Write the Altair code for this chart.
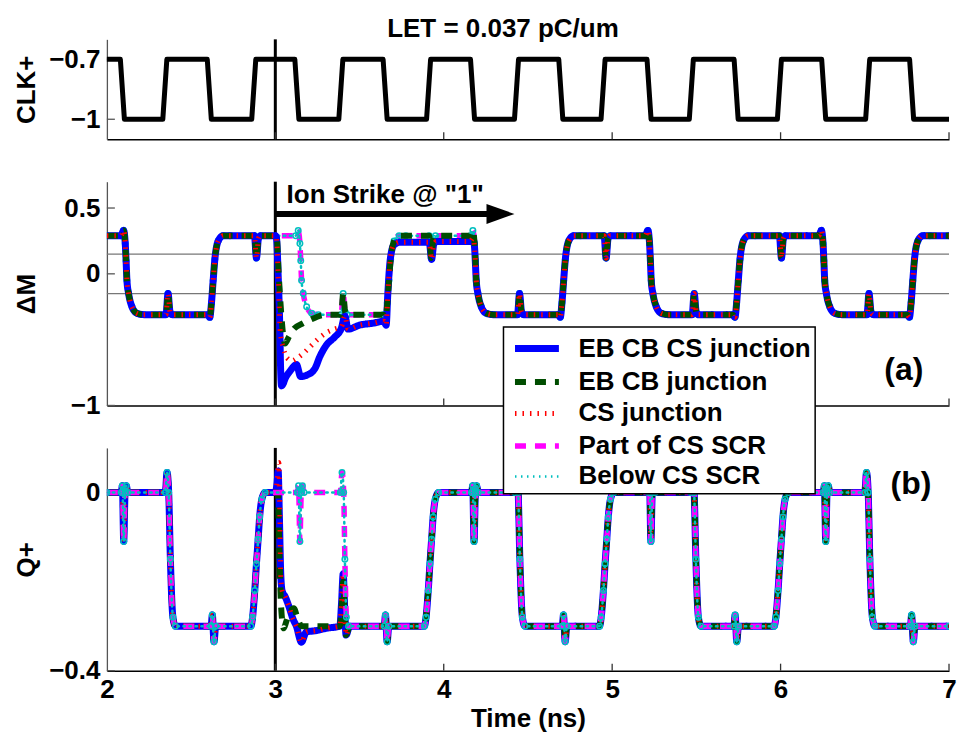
import altair as alt
import pandas as pd

FONT = "Liberation Sans"

# ---------------- data ----------------
clk = [(2.000, -0.7), (2.080, -0.7), (2.104, -1), (2.332, -1), (2.356, -0.7), (2.596, -0.7),
       (2.620, -1), (2.860, -1), (2.884, -0.7), (3.116, -0.7), (3.140, -1), (3.377, -1),
       (3.401, -0.7), (3.640, -0.7), (3.664, -1), (3.898, -1), (3.922, -0.7), (4.159, -0.7),
       (4.183, -1), (4.420, -1), (4.444, -0.7), (4.683, -0.7), (4.707, -1), (4.934, -1),
       (4.958, -0.7), (5.207, -0.7), (5.231, -1), (5.458, -1), (5.482, -0.7), (5.724, -0.7),
       (5.748, -1), (5.981, -1), (6.005, -0.7), (6.244, -0.7), (6.268, -1), (6.505, -1),
       (6.529, -0.7), (6.766, -0.7), (6.790, -1), (7.000, -1)]

dm_norm = [
    (2.000, 0.29),
    (2.084, 0.29), (2.099, 0.33), (2.109, 0.23), (2.114, 0.10), (2.119, -0.05), (2.129, -0.15), (2.149, -0.25), (2.179, -0.30), (2.219, -0.31),
    (2.351, -0.31), (2.363, -0.15), (2.375, -0.29), (2.388, -0.31),
    (2.598, -0.31), (2.611, -0.33), (2.621, -0.22), (2.631, -0.05), (2.641, 0.11), (2.661, 0.25), (2.691, 0.29), (2.731, 0.29),
    (2.876, 0.29), (2.888, 0.12), (2.900, 0.27), (2.913, 0.29),
    (3.121, 0.29), (3.136, 0.33), (3.146, 0.23), (3.151, 0.10), (3.156, -0.05), (3.166, -0.15), (3.186, -0.25), (3.216, -0.30), (3.256, -0.31),
    (3.391, -0.31), (3.403, -0.15), (3.415, -0.29), (3.428, -0.31),
    (3.642, -0.31), (3.655, -0.33), (3.665, -0.22), (3.675, -0.05), (3.685, 0.11), (3.705, 0.25), (3.735, 0.29), (3.775, 0.29),
    (3.914, 0.29), (3.926, 0.12), (3.938, 0.27), (3.951, 0.29),
    (4.158, 0.29), (4.173, 0.33), (4.183, 0.23), (4.188, 0.10), (4.193, -0.05), (4.203, -0.15), (4.223, -0.25), (4.253, -0.30), (4.293, -0.31),
    (4.438, -0.31), (4.450, -0.15), (4.462, -0.29), (4.475, -0.31),
    (4.679, -0.31), (4.692, -0.33), (4.702, -0.22), (4.712, -0.05), (4.722, 0.11), (4.742, 0.25), (4.772, 0.29), (4.812, 0.29),
    (4.952, 0.29), (4.964, 0.12), (4.976, 0.27), (4.989, 0.29),
    (5.197, 0.29), (5.212, 0.33), (5.222, 0.23), (5.227, 0.10), (5.232, -0.05), (5.242, -0.15), (5.262, -0.25), (5.292, -0.30), (5.332, -0.31),
    (5.475, -0.31), (5.487, -0.15), (5.499, -0.29), (5.512, -0.31),
    (5.716, -0.31), (5.729, -0.33), (5.739, -0.22), (5.749, -0.05), (5.759, 0.11), (5.779, 0.25), (5.809, 0.29), (5.849, 0.29),
    (5.993, 0.29), (6.005, 0.12), (6.017, 0.27), (6.030, 0.29),
    (6.227, 0.29), (6.242, 0.33), (6.252, 0.23), (6.257, 0.10), (6.262, -0.05), (6.272, -0.15), (6.292, -0.25), (6.322, -0.30), (6.362, -0.31),
    (6.513, -0.31), (6.525, -0.15), (6.537, -0.29), (6.550, -0.31),
    (6.752, -0.31), (6.765, -0.33), (6.775, -0.22), (6.785, -0.05), (6.795, 0.11), (6.815, 0.25), (6.845, 0.29), (6.885, 0.29),
    (7.000, 0.29),
]

dm_blue = [(3.000, 0.29), (3.006, 0.28), (3.018, -0.05), (3.027, -0.43), (3.031, -0.70), (3.037, -0.85),
           (3.045, -0.84), (3.057, -0.80), (3.087, -0.74), (3.126, -0.69), (3.150, -0.78), (3.186, -0.77),
           (3.235, -0.72), (3.264, -0.63), (3.304, -0.54), (3.353, -0.48), (3.393, -0.41), (3.413, -0.32),
           (3.432, -0.42), (3.500, -0.39), (3.580, -0.375), (3.645, -0.36), (3.658, -0.39), (3.668, -0.15),
           (3.678, 0.05), (3.690, 0.17), (3.705, 0.22), (3.739, 0.24), (3.914, 0.24), (3.928, 0.11),
           (3.940, 0.22), (3.956, 0.245), (4.158, 0.245), (4.173, 0.27), (4.183, 0.20), (4.188, 0.08),
           (4.193, -0.05), (4.203, -0.15), (4.223, -0.25), (4.253, -0.30), (4.293, -0.31)]

dm_green = [(3.000, 0.29), (3.008, 0.28), (3.020, 0.0), (3.035, -0.30), (3.048, -0.48), (3.057, -0.53),
            (3.080, -0.48), (3.106, -0.425), (3.166, -0.375), (3.205, -0.35), (3.304, -0.31), (3.391, -0.31)]

dm_red = [(3.000, 0.29), (3.006, 0.28), (3.018, -0.05), (3.030, -0.45), (3.047, -0.56), (3.070, -0.64),
          (3.100, -0.66), (3.130, -0.64), (3.170, -0.60), (3.210, -0.55), (3.250, -0.50), (3.300, -0.45),
          (3.350, -0.42), (3.393, -0.40)]

q_norm = [
    (2.000, 0.0),
    (2.085, 0.0), (2.092, 0.015), (2.100, -0.11), (2.108, 0.0), (2.115, 0.015), (2.125, 0.0),
    (2.347, 0.0), (2.357, 0.045), (2.367, 0.0), (2.377, -0.15), (2.392, -0.28), (2.407, -0.30),
    (2.619, -0.30), (2.626, -0.275), (2.636, -0.335), (2.646, -0.30),
    (2.855, -0.30), (2.865, -0.28), (2.878, -0.22), (2.888, -0.16), (2.898, -0.105), (2.907, -0.055), (2.920, -0.015), (2.940, 0.0),
    (3.131, 0.0), (3.138, 0.015), (3.146, -0.11), (3.154, 0.0), (3.161, 0.015), (3.171, 0.0),
    (3.386, 0.0), (3.396, 0.045), (3.406, 0.0), (3.413, -0.15), (3.422, -0.28), (3.435, -0.30),
    (3.647, -0.30), (3.654, -0.275), (3.664, -0.335), (3.674, -0.30),
    (3.885, -0.30), (3.895, -0.28), (3.908, -0.22), (3.918, -0.16), (3.928, -0.105), (3.937, -0.055), (3.950, -0.015), (3.970, 0.0),
    (4.165, 0.0), (4.172, 0.015), (4.180, -0.11), (4.188, 0.0), (4.195, 0.015), (4.205, 0.0),
    (4.422, 0.0), (4.432, 0.045), (4.442, 0.0), (4.452, -0.15), (4.467, -0.28), (4.482, -0.30),
    (4.704, -0.30), (4.711, -0.275), (4.721, -0.335), (4.731, -0.30),
    (4.925, -0.30), (4.935, -0.28), (4.948, -0.22), (4.958, -0.16), (4.968, -0.105), (4.977, -0.055), (4.990, -0.015), (5.010, 0.0),
    (5.215, 0.0), (5.222, 0.015), (5.230, -0.11), (5.238, 0.0), (5.245, 0.015), (5.255, 0.0),
    (5.467, 0.0), (5.477, 0.045), (5.487, 0.0), (5.497, -0.15), (5.512, -0.28), (5.527, -0.30),
    (5.723, -0.30), (5.730, -0.275), (5.740, -0.335), (5.750, -0.30),
    (5.962, -0.30), (5.972, -0.28), (5.985, -0.22), (5.995, -0.16), (6.005, -0.105), (6.014, -0.055), (6.027, -0.015), (6.047, 0.0),
    (6.253, 0.0), (6.260, 0.015), (6.268, -0.11), (6.276, 0.0), (6.283, 0.015), (6.293, 0.0),
    (6.500, 0.0), (6.510, 0.045), (6.520, 0.0), (6.530, -0.15), (6.545, -0.28), (6.560, -0.30),
    (6.771, -0.30), (6.778, -0.275), (6.788, -0.335), (6.798, -0.30),
    (7.000, -0.30),
]

q_blue = [(3.000, 0.0), (3.010, 0.02), (3.017, 0.048), (3.024, -0.05), (3.032, -0.18), (3.040, -0.22),
          (3.060, -0.235), (3.080, -0.255), (3.106, -0.285), (3.125, -0.30), (3.155, -0.336), (3.184, -0.313),
          (3.244, -0.31), (3.300, -0.305), (3.383, -0.30), (3.393, -0.25), (3.403, -0.183), (3.412, -0.26),
          (3.420, -0.32), (3.442, -0.30)]
q_red = [(3.000, 0.0), (3.012, 0.03), (3.021, 0.067), (3.027, -0.05)]
q_green = [(3.000, 0.0), (3.015, 0.0), (3.025, -0.15), (3.035, -0.26), (3.050, -0.305), (3.065, -0.29),
           (3.085, -0.27), (3.110, -0.26), (3.130, -0.28), (3.155, -0.30), (3.383, -0.30), (3.393, -0.26),
           (3.403, -0.20), (3.412, -0.27), (3.420, -0.32), (3.442, -0.30)]

series_names = ["EB CB CS junction", "EB CB junction", "CS junction", "Part of CS SCR", "Below CS SCR"]
series_colors = ["#0000ff", "#004d00", "#ff0000", "#ff00ff", "#00bfbf"]
series_dash = [[1, 0], [11, 9], [1.5, 6], [11, 9], [1.5, 4.5]]
series_width = [7, 6, 5, 5.5, 2.5]

strike_t = [3.0]
hlines_v = [0.15, -0.15]
xtick_t = [3, 4, 5, 6, 7]
ion_text = {"t": [3.067], "v": [0.537], "label": ['Ion Strike @ "1"']}
arrow_shaft = {"t": [3.0], "t2": [4.27], "v": [0.455]}
arrow_head = {"t": [4.337], "v": [0.455]}
label_a = {"t": [6.732], "v": [-0.729], "label": ["(a)"]}
label_b = {"t": [6.774], "v": [0.019], "label": ["(b)"]}


def splice(base, start, end, insert):
    return [p for p in base if p[0] < start] + insert + [p for p in base if p[0] > end]


blue_dm = splice(dm_norm, 3.0, 4.293, dm_blue)
green_dm = splice(dm_norm, 3.0, 3.391, dm_green)
red_dm = splice(blue_dm, 3.0, 3.393, dm_red)
blue_q = splice(q_norm, 3.0, 3.442, q_blue)
red_q = splice(blue_q, 3.0, 3.027, q_red)
green_q = splice(q_norm, 3.0, 3.442, q_green)


def frame(points, name=""):
    return pd.DataFrame({"t": [p[0] for p in points], "v": [p[1] for p in points], "series": name})


# ---------------- encodings ----------------
W = 843
XS = alt.Scale(domain=[2, 7], nice=False, zero=False)


def x_enc(show):
    if show:
        ax = alt.Axis(values=[2, 3, 4, 5, 6, 7], format="~g", ticks=False, grid=False, labelPadding=6,
                      labelFlush=False, titlePadding=3, title="Time (ns)", domainColor="black", domainWidth=1.5)
    else:
        ax = alt.Axis(values=[2, 3, 4, 5, 6, 7], labels=False, ticks=False, grid=False, title=None,
                      domainColor="black", domainWidth=1.5)
    return alt.X("t:Q", scale=XS, axis=ax)


def y_enc(domain, values, title):
    return alt.Y("v:Q", scale=alt.Scale(domain=domain, nice=False, zero=False),
                 axis=alt.Axis(values=values, format="~g", ticks=False, grid=False, labelPadding=7,
                               labelFlush=False, title=title, titleX=-80, titleBaseline="middle",
                               domainColor="#555", domainWidth=1.3))


COLOR = alt.Color("series:N", scale=alt.Scale(domain=series_names, range=series_colors), title=None,
                  legend=alt.Legend(labelExpr="datum.label + '\u00a0\u00a0\u00a0'"))
DASH = alt.StrokeDash("series:N", scale=alt.Scale(domain=series_names, range=series_dash), title=None)
WIDTH = alt.StrokeWidth("series:N", scale=alt.Scale(type="ordinal", domain=series_names, range=series_width),
                        title=None)


def common(show, ydom, yvals, ytitle, height):
    X = x_enc(show)
    Y = y_enc(ydom, yvals, ytitle)
    strike = alt.Chart(pd.DataFrame({"t": strike_t})).mark_rule(color="black", strokeWidth=3).encode(x=X)
    xt = alt.Chart(pd.DataFrame({"t": xtick_t})).mark_rule(color="#333", strokeWidth=1.3).encode(
        x=X, y=alt.value(height), y2=alt.value(height - 7))
    yt = alt.Chart(pd.DataFrame({"v": yvals})).mark_rule(color="#555", strokeWidth=1.3).encode(
        y=Y, x=alt.value(0), x2=alt.value(8))
    return X, Y, [strike, xt, yt]


def trace(points, name, X, Y, cap="butt"):
    return alt.Chart(frame(points, name)).mark_line(
        interpolate="monotone", strokeCap=cap, strokeJoin="round", clip=True).encode(
        x=X, y=Y, color=COLOR, strokeDash=DASH, strokeWidth=WIDTH)


def markers(points, X, Y):
    return alt.Chart(frame(points)).mark_point(shape="circle", filled=False, color="#00bfbf", size=30,
                                               strokeWidth=1.5, opacity=1, clip=True).encode(x=X, y=Y)


# ---- panel 1: clock
H1, H2, H3 = 100, 224, 223
X1, Y1, dec1 = common(False, [-1.1, -0.6], [-1, -0.7], "CLK+", H1)
clk_line = alt.Chart(frame(clk)).mark_line(color="black", strokeWidth=5, strokeJoin="round").encode(x=X1, y=Y1)
p1 = alt.layer(*dec1, clk_line).properties(
    width=W, height=H1,
    title=alt.TitleParams("LET = 0.037 pC/um", font=FONT, fontSize=26, fontWeight="bold", color="black",
                          anchor="middle", dx=-25, dy=9, offset=5))

# ---- panel 2: delta M
X2, Y2, dec2 = common(False, [-1, 0.7], [-1, 0, 0.5], "ΔM", H2)
hl = alt.Chart(pd.DataFrame({"v": hlines_v})).mark_rule(color="#777", strokeWidth=1.4).encode(y=Y2)
txt = alt.Chart(pd.DataFrame(ion_text)).mark_text(font=FONT, fontSize=26, fontWeight="bold", align="left",
                                                 baseline="alphabetic", color="black").encode(x=X2, y=Y2, text="label:N")
shaft = alt.Chart(pd.DataFrame(arrow_shaft)).mark_rule(color="black", strokeWidth=6).encode(
    x=X2, x2=alt.X2("t2:Q"), y=Y2)
head = alt.Chart(pd.DataFrame(arrow_head)).mark_point(shape="M -1 -0.714 L 1 0 L -1 0.714 Z", size=784,
                                                      filled=True, color="black", opacity=1).encode(x=X2, y=Y2)
ta = alt.Chart(pd.DataFrame(label_a)).mark_text(font=FONT, fontSize=32, fontWeight="bold", align="center",
                                               baseline="middle", color="black").encode(x=X2, y=Y2, text="label:N")
p2 = alt.layer(
    hl, *dec2,
    trace(dm_norm, "Part of CS SCR", X2, Y2),
    trace(dm_norm, "Below CS SCR", X2, Y2, "round"),
    markers(dm_norm, X2, Y2),
    trace(blue_dm, "EB CB CS junction", X2, Y2, "round"),
    trace(green_dm, "EB CB junction", X2, Y2),
    trace(red_dm, "CS junction", X2, Y2),
    shaft, head, txt, ta,
).properties(width=W, height=H2)

# ---- panel 3: Q+
X3, Y3, dec3 = common(True, [-0.4, 0.1], [-0.4, 0], "Q+", H3)
tb = alt.Chart(pd.DataFrame(label_b)).mark_text(font=FONT, fontSize=32, fontWeight="bold", align="center",
                                               baseline="middle", color="black").encode(x=X3, y=Y3, text="label:N")
p3 = alt.layer(
    *dec3,
    trace(blue_q, "EB CB CS junction", X3, Y3, "round"),
    trace(green_q, "EB CB junction", X3, Y3),
    trace(red_q, "CS junction", X3, Y3),
    trace(q_norm, "Part of CS SCR", X3, Y3),
    trace(q_norm, "Below CS SCR", X3, Y3, "round"),
    markers(q_norm, X3, Y3),
    tb,
).properties(width=W, height=H3)

chart = alt.vconcat(p1, p2, p3, spacing=42.5, bounds="flush").properties(
    padding={"left": 14, "top": 15, "right": 4, "bottom": 5}
).configure_axis(
    labelFont=FONT, labelFontSize=26, labelFontWeight="bold", labelColor="black",
    titleFont=FONT, titleFontSize=26, titleFontWeight="bold", titleColor="black",
).configure_legend(
    orient="none", legendX=397, legendY=288, fillColor="white", strokeColor="black", strokeWidth=1.5,
    padding=4, labelFont=FONT, labelFontSize=26, labelFontWeight="bold", labelColor="black", labelLimit=0,
    symbolType="M -1.57 0 H 1.57", symbolSize=784, rowPadding=2, labelOffset=24, symbolOffset=12,
).configure_view(strokeWidth=0)

chart.save("out.html", embed_options={"renderer": "svg", "actions": False})
